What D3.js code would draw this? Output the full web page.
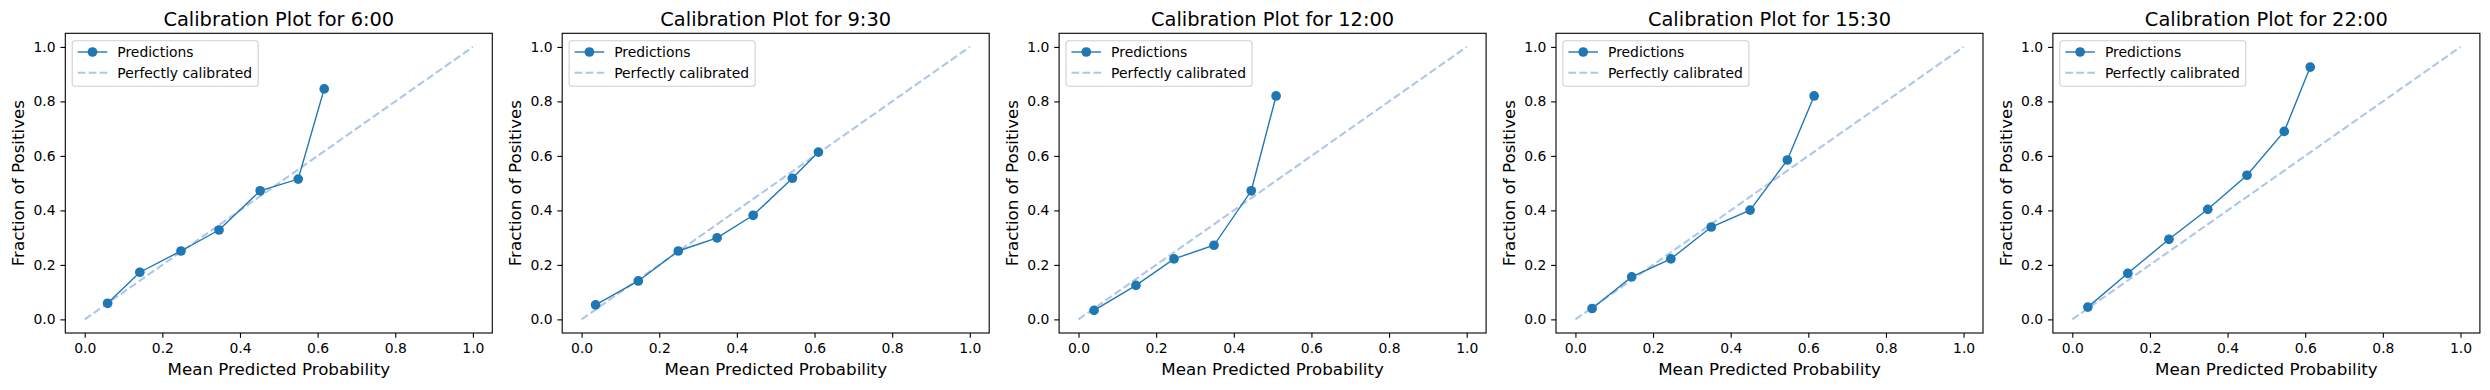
<!DOCTYPE html>
<html>
<head>
<meta charset="utf-8">
<script src="https://cdn.jsdelivr.net/npm/d3@7"></script>
<style>
  body { margin: 0; background: #fff; }
  svg { display: block; }
</style>
</head>
<body>
<svg id="chart" width="2490" height="390"></svg>
<script>
// ---- data ----
const titles = ["6:00", "9:30", "12:00", "15:30", "22:00"];
const meanPred = [
  [0.059, 0.142, 0.248, 0.346, 0.452, 0.550, 0.617],
  [0.036, 0.146, 0.249, 0.349, 0.442, 0.543, 0.610],
  [0.040, 0.148, 0.246, 0.349, 0.445, 0.509],
  [0.043, 0.145, 0.246, 0.350, 0.450, 0.546, 0.615],
  [0.040, 0.143, 0.249, 0.349, 0.450, 0.546, 0.613]
];
const fracPos = [
  [0.059, 0.173, 0.251, 0.328, 0.472, 0.515, 0.846],
  [0.053, 0.141, 0.251, 0.299, 0.382, 0.518, 0.614],
  [0.033, 0.125, 0.222, 0.272, 0.472, 0.820],
  [0.040, 0.156, 0.222, 0.339, 0.401, 0.585, 0.820],
  [0.045, 0.169, 0.294, 0.404, 0.529, 0.690, 0.926]
];
const perfect = [0, 1];
const tickValues = [0, 0.2, 0.4, 0.6, 0.8, 1.0];
const xLabel = "Mean Predicted Probability";
const yLabel = "Fraction of Positives";
const legendLabels = ["Predictions", "Perfectly calibrated"];

// ---- layout ----
const FONT = "DejaVu Sans";
const firstLeft = 65.3, step = 496.9, axW = 427, axTop = 33.3, axH = 299.7;
const tickLen = 4.86, tickPad = 4.86;
const blue = "#1f77b4", light = "#aec7e8";
const markerR = 4.85;

const svg = d3.select("#chart");
svg.append("rect").attr("width", 2490).attr("height", 390).attr("fill", "#fff");

titles.forEach((t, i) => {
  const left = firstLeft + i * step;
  const g = svg.append("g").attr("transform", `translate(${left},${axTop})`);
  const x = d3.scaleLinear().domain([-0.05, 1.05]).range([0, axW]);
  const y = d3.scaleLinear().domain([-0.05, 1.05]).range([axH, 0]);

  // perfect diagonal
  g.append("path")
    .datum(perfect.map(v => [v, v]))
    .attr("d", d3.line().x(d => x(d[0])).y(d => y(d[1])))
    .attr("fill", "none").attr("stroke", light)
    .attr("stroke-width", 2.08).attr("stroke-dasharray", "7.7,3.3");

  const pts = meanPred[i].map((v, k) => [v, fracPos[i][k]]);
  g.append("path")
    .datum(pts)
    .attr("d", d3.line().x(d => x(d[0])).y(d => y(d[1])))
    .attr("fill", "none").attr("stroke", blue).attr("stroke-width", 1.39);
  g.selectAll("circle.pt").data(pts).enter().append("circle")
    .attr("class", "pt")
    .attr("cx", d => x(d[0])).attr("cy", d => y(d[1]))
    .attr("r", markerR).attr("fill", blue);

  // axes
  const xa = g.append("g").attr("transform", `translate(0,${axH})`)
    .call(d3.axisBottom(x).tickValues(tickValues).tickFormat(d3.format(".1f"))
      .tickSizeInner(tickLen).tickSizeOuter(0).tickPadding(tickPad));
  const ya = g.append("g")
    .call(d3.axisLeft(y).tickValues(tickValues).tickFormat(d3.format(".1f"))
      .tickSizeInner(tickLen).tickSizeOuter(0).tickPadding(tickPad));
  [xa, ya].forEach(a => {
    a.select(".domain").remove();
    a.selectAll("line").attr("stroke", "#000").attr("stroke-width", 1.1);
    a.selectAll("text").attr("font-family", FONT).attr("font-size", 13.9).attr("fill", "#000");
  });

  // frame
  g.append("rect").attr("width", axW).attr("height", axH)
    .attr("fill", "none").attr("stroke", "#000").attr("stroke-width", 1.1);

  // title
  g.append("text").attr("x", axW / 2).attr("y", -7.8)
    .attr("text-anchor", "middle").attr("font-family", FONT).attr("font-size", 19.4)
    .text("Calibration Plot for " + t);
  // x label
  g.append("text").attr("x", axW / 2).attr("y", axH + 42.5)
    .attr("text-anchor", "middle").attr("font-family", FONT).attr("font-size", 16.7)
    .text(xLabel);
  // y label
  g.append("text").attr("transform", `translate(-41.3,${axH / 2}) rotate(-90)`)
    .attr("text-anchor", "middle").attr("font-family", FONT).attr("font-size", 16.7)
    .text(yLabel);

  // legend
  const lg = g.append("g").attr("transform", "translate(6.9,7.4)");
  lg.append("rect").attr("width", 186).attr("height", 45.6).attr("rx", 2.8)
    .attr("fill", "#fff").attr("fill-opacity", 0.8)
    .attr("stroke", "#d0d0d0").attr("stroke-width", 1.1);
  lg.append("line").attr("x1", 5.5).attr("x2", 35.1).attr("y1", 11.3).attr("y2", 11.3)
    .attr("stroke", blue).attr("stroke-width", 1.39);
  lg.append("circle").attr("cx", 20.3).attr("cy", 11.3).attr("r", markerR).attr("fill", blue);
  lg.append("line").attr("x1", 5.5).attr("x2", 35.1).attr("y1", 32).attr("y2", 32)
    .attr("stroke", light).attr("stroke-width", 2.08).attr("stroke-dasharray", "7.7,3.3");
  legendLabels.forEach((lab, k) => {
    lg.append("text").attr("x", 45.1).attr("y", [11.3, 32][k]).attr("dy", "0.36em")
      .attr("font-family", FONT).attr("font-size", 13.9).text(lab);
  });
});
</script>
</body>
</html>
